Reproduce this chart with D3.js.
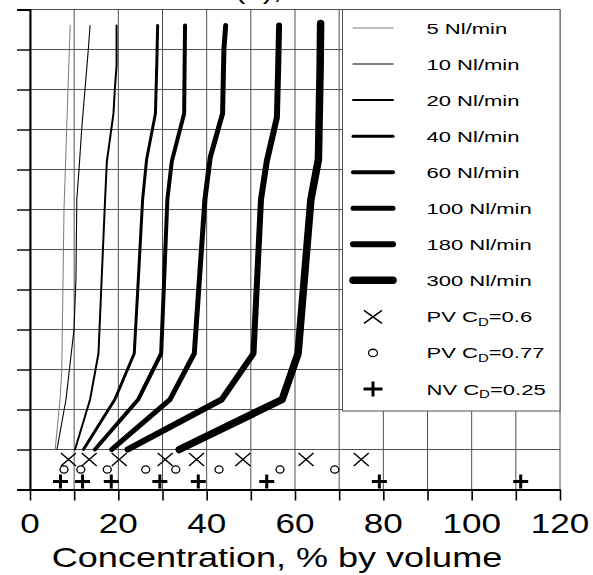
<!DOCTYPE html>
<html>
<head>
<meta charset="utf-8">
<script src="https://cdn.jsdelivr.net/npm/d3@7"></script>
<style>
  html, body { margin: 0; padding: 0; background: #fff; }
  svg { display: block; font-family: "Liberation Sans", Arial, Helvetica, sans-serif; }
</style>
</head>
<body>
<svg id="chart" width="593" height="575"></svg>
<script>
// Vertical concentration profiles: [concentration % by volume, height]
const flowRates = ["5 Nl/min", "10 Nl/min", "20 Nl/min", "40 Nl/min",
                   "60 Nl/min", "100 Nl/min", "180 Nl/min", "300 Nl/min"];

const profile5   = [[9.1,116],[8.9,110],[8.3,90],[7.7,70],[7.2,30],[6.8,22.5],[5.7,10]];
const profile10  = [[13.6,116],[13.2,110],[12.45,100],[11.7,90],[11.1,80],[10.6,72.5],[10.4,52.5],[9.96,40],[8.15,22.5],[6.1,10]];
const profile20  = [[19.6,116],[19.6,106],[19.2,100],[18.9,94],[17.4,82],[17.0,72.5],[16.2,52],[15.5,34],[13.6,22.5],[10.2,10]];
const profile40  = [[28.9,116],[28.7,106],[28.4,94],[26.4,82.5],[25.5,72.5],[24.4,50],[23.6,34],[19.2,22.5],[12.1,10]];
const profile60  = [[35.1,116],[34.9,94],[32.1,82],[31.1,72.5],[29.7,34],[24.5,22.5],[14.7,10]];
const profile100 = [[44.3,116],[43.9,110],[43.6,94],[40.8,83],[39.6,72.5],[37.2,34],[31.7,22.5],[18.5,10]];
const profile180 = [[56.4,116],[56.2,106],[55.9,93],[53.6,82],[52.3,72.5],[50.6,34],[43.4,22.5],[22.1,10]];
const profile300 = [[65.8,116.5],[65.7,106],[65.3,82.5],[63.6,72.5],[60.7,34],[57.1,22.5],[33.8,10]];

// Vent model predictions, one per flow rate (concentration, % by volume)
const pvCd060 = [8.7, 13.4, 20.2, 30.6, 37.7, 48.2, 62.5, 75.0];
const pvCd077 = [7.7, 11.5, 17.5, 26.2, 33.0, 42.8, 56.6, 69.0];
const nvCd025 = [6.9, 11.9, 18.4, 29.4, 38.1, 53.6, 79.1, 111.1];
const pvCd060Height = 7.5;
const pvCd077Height = 5;
const nvCd025Height = 2;

const xTickLabels = [0, 20, 40, 60, 80, 100, 120];
const axisTitle = "Concentration, % by volume";

const profiles = [profile5, profile10, profile20, profile40, profile60, profile100, profile180, profile300];
const strokeW  = [1, 1.1, 2, 3, 4, 5, 6, 7.5];
const strokeC  = ["#7a7a7a", "#000", "#000", "#000", "#000", "#000", "#000", "#000"];

const svg = d3.select("#chart");
const x = d3.scaleLinear().domain([0, 120]).range([30, 560]);
const y = d3.scaleLinear().domain([0, 120]).range([489.5, 9.5]);

// horizontally widened text
function wideText(parent, px, py, str, size, sx, anchor) {
  return parent.append("text")
    .attr("transform", `translate(${px},${py}) scale(${sx},1)`)
    .attr("text-anchor", anchor || "start")
    .attr("font-size", size)
    .attr("fill", "#000")
    .text(str);
}

// partially visible heading above the frame
wideText(svg, 235, -1, "(b),", 24, 1.3, "start");

// grid
const grid = svg.append("g").attr("stroke", "#505050").attr("stroke-width", 1);
grid.selectAll("line.v").data(d3.range(0, 121, 10)).join("line")
  .attr("x1", d => x(d)).attr("x2", d => x(d))
  .attr("y1", y(120)).attr("y2", y(0));
grid.selectAll("line.h").data(d3.range(0, 121, 10)).join("line")
  .attr("x1", x(0)).attr("x2", x(120))
  .attr("y1", d => y(d)).attr("y2", d => y(d));

// profiles
const line = d3.line().x(d => x(d[0])).y(d => y(d[1]));
svg.append("g").selectAll("path").data(profiles).join("path")
  .attr("d", line)
  .attr("fill", "none")
  .attr("stroke", (d, i) => strokeC[i])
  .attr("stroke-width", (d, i) => strokeW[i])
  .attr("stroke-linecap", "round")
  .attr("stroke-linejoin", "round");

// marker shapes
function drawCross(g, cx, cy, hx, hy, w) {
  g.append("path").attr("d", `M${cx-hx},${cy-hy}L${cx+hx},${cy+hy}M${cx-hx},${cy+hy}L${cx+hx},${cy-hy}`)
    .attr("stroke", "#000").attr("stroke-width", w).attr("fill", "none");
}
function drawPlus(g, cx, cy, hx, hy, w) {
  g.append("path").attr("d", `M${cx-hx},${cy}L${cx+hx},${cy}M${cx},${cy-hy}L${cx},${cy+hy}`)
    .attr("stroke", "#000").attr("stroke-width", w).attr("fill", "none");
}
function drawRing(g, cx, cy, rx, ry) {
  g.append("ellipse").attr("cx", cx).attr("cy", cy).attr("rx", rx).attr("ry", ry)
    .attr("fill", "#fff").attr("stroke", "#000").attr("stroke-width", 1.3);
}

const marks = svg.append("g");
pvCd060.forEach(v => drawCross(marks, x(v), y(pvCd060Height), 7.5, 6.5, 1.5));
pvCd077.forEach(v => drawRing(marks, x(v), y(pvCd077Height), 4, 3.6));
nvCd025.forEach(v => drawPlus(marks, x(v), y(nvCd025Height), 7.5, 7, 3));

// legend
const lg = svg.append("g");
lg.append("rect").attr("x", 342.5).attr("y", 9.5).attr("width", 217.5).attr("height", 401.5)
  .attr("fill", "#fff").attr("stroke", "#505050").attr("stroke-width", 1);
const rowY = i => 28 + 36.05 * i;
flowRates.forEach((lab, i) => {
  lg.append("line").attr("x1", 353).attr("x2", 393)
    .attr("y1", rowY(i)).attr("y2", rowY(i))
    .attr("stroke", strokeC[i]).attr("stroke-width", strokeW[i])
    .attr("stroke-linecap", "round");
  wideText(lg, 426.5, rowY(i) + 6, lab, 15.4, 1.43);
});
const symRows = [
  { name: "PV C", sub: "D", rest: "=0.6",  draw: (cy) => drawCross(lg, 373, cy, 9, 6.5, 1.5) },
  { name: "PV C", sub: "D", rest: "=0.77", draw: (cy) => drawRing(lg, 373, cy, 4.5, 3.7) },
  { name: "NV C", sub: "D", rest: "=0.25", draw: (cy) => drawPlus(lg, 373, cy, 9.5, 7.5, 3) }
];
symRows.forEach((r, k) => {
  const cy = rowY(8 + k);
  r.draw(cy + 0.5);
  const t = lg.append("text")
    .attr("transform", `translate(426.5,${cy + 6}) scale(1.43,1)`)
    .attr("font-size", 15.4).attr("fill", "#000");
  t.append("tspan").text(r.name);
  t.append("tspan").attr("font-size", 10.5).attr("dy", 3.5).text(r.sub);
  t.append("tspan").attr("dy", -3.5).text(r.rest);
});

// axes
const yAxis = d3.axisLeft(y).tickValues(d3.range(0, 121, 10)).tickSize(13).tickFormat("");
svg.append("g").attr("transform", "translate(30,0)").call(yAxis)
  .call(g => g.select(".domain").attr("stroke-width", 2))
  .call(g => g.selectAll(".tick line").attr("stroke-width", 1.4));

const xAxis = d3.axisBottom(x).tickValues(d3.range(0, 121, 10)).tickSize(11).tickSizeOuter(0).tickFormat("");
svg.append("g").attr("transform", "translate(0,489.5)").call(xAxis)
  .call(g => g.select(".domain").attr("stroke-width", 2))
  .call(g => g.selectAll(".tick line").attr("stroke-width", 1.6));

xTickLabels.forEach(v => wideText(svg, x(v), 532.5, String(v), 27, 1.3, "middle"));
wideText(svg, 277, 566.5, axisTitle, 27.5, 1.31, "middle");
</script>
</body>
</html>
